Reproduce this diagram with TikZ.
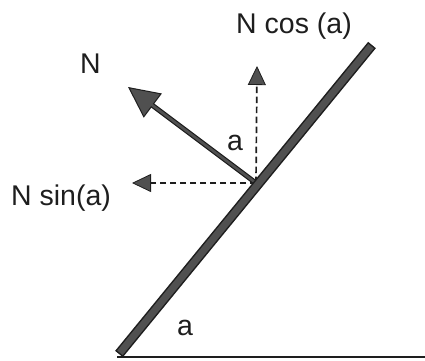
\documentclass[tikz,border=0pt]{standalone}
\usepackage{fontspec}
\setmainfont{Liberation Sans}
\usetikzlibrary{arrows.meta}
\definecolor{bargray}{HTML}{505050}
\definecolor{inkc}{HTML}{1E1E1E}
\begin{document}
\begin{tikzpicture}[x=1pt,y=-1pt,
  lbl/.style={inner sep=0pt, anchor=base west, text=inkc, font=\fontsize{28.5}{30}\selectfont},
  bigtip/.style={-{Triangle[length=31pt,width=30pt,fill=bargray,line width=1pt]}},
  smalltip/.style={-{Triangle[length=19pt,width=18pt,fill=bargray,line width=0.8pt]}},
  dashline/.style={draw=inkc, line width=1.7pt, dash pattern=on 6.5pt off 3.5pt},
]
\useasboundingbox (0,0) rectangle (425,360);
% coordinates
\coordinate (barlo) at (119,354);
\coordinate (barhi) at (372,45);
\coordinate (c) at (256,183);
\coordinate (ntip) at (128,87);
\coordinate (ctip) at (257,66);
\coordinate (stip) at (132,183);
\coordinate (g0) at (117,357);
\coordinate (g1) at (425,357);
% ground
\draw[line width=1.6pt, inkc] (g0) -- (g1);
% dashed components
\draw[dashline, smalltip] (c) -- (ctip);
\draw[dashline, smalltip] (c) -- (stip);
% normal force
\draw[line width=5pt, inkc, shorten >=22pt] (c) -- (ntip);
\draw[line width=1pt, draw=inkc, bigtip] (c) -- (ntip);
\draw[line width=2.6pt, bargray, shorten >=24pt, shorten <=2pt] (c) -- (ntip);
% incline bar
\draw[line width=10pt, inkc] (barlo) -- (barhi);
\draw[line width=7pt, bargray, shorten <=1.5pt, shorten >=1.5pt] (barlo) -- (barhi);
% labels
\node[lbl] (lcos) at (236,33) {N cos (a)};
\node[lbl] (ln) at (80,73) {N};
\node[lbl] (lsin) at (11,205) {N sin(a)};
\node[lbl] (la1) at (227,150) {a};
\node[lbl] (la2) at (177,335) {a};
\end{tikzpicture}
\end{document}
